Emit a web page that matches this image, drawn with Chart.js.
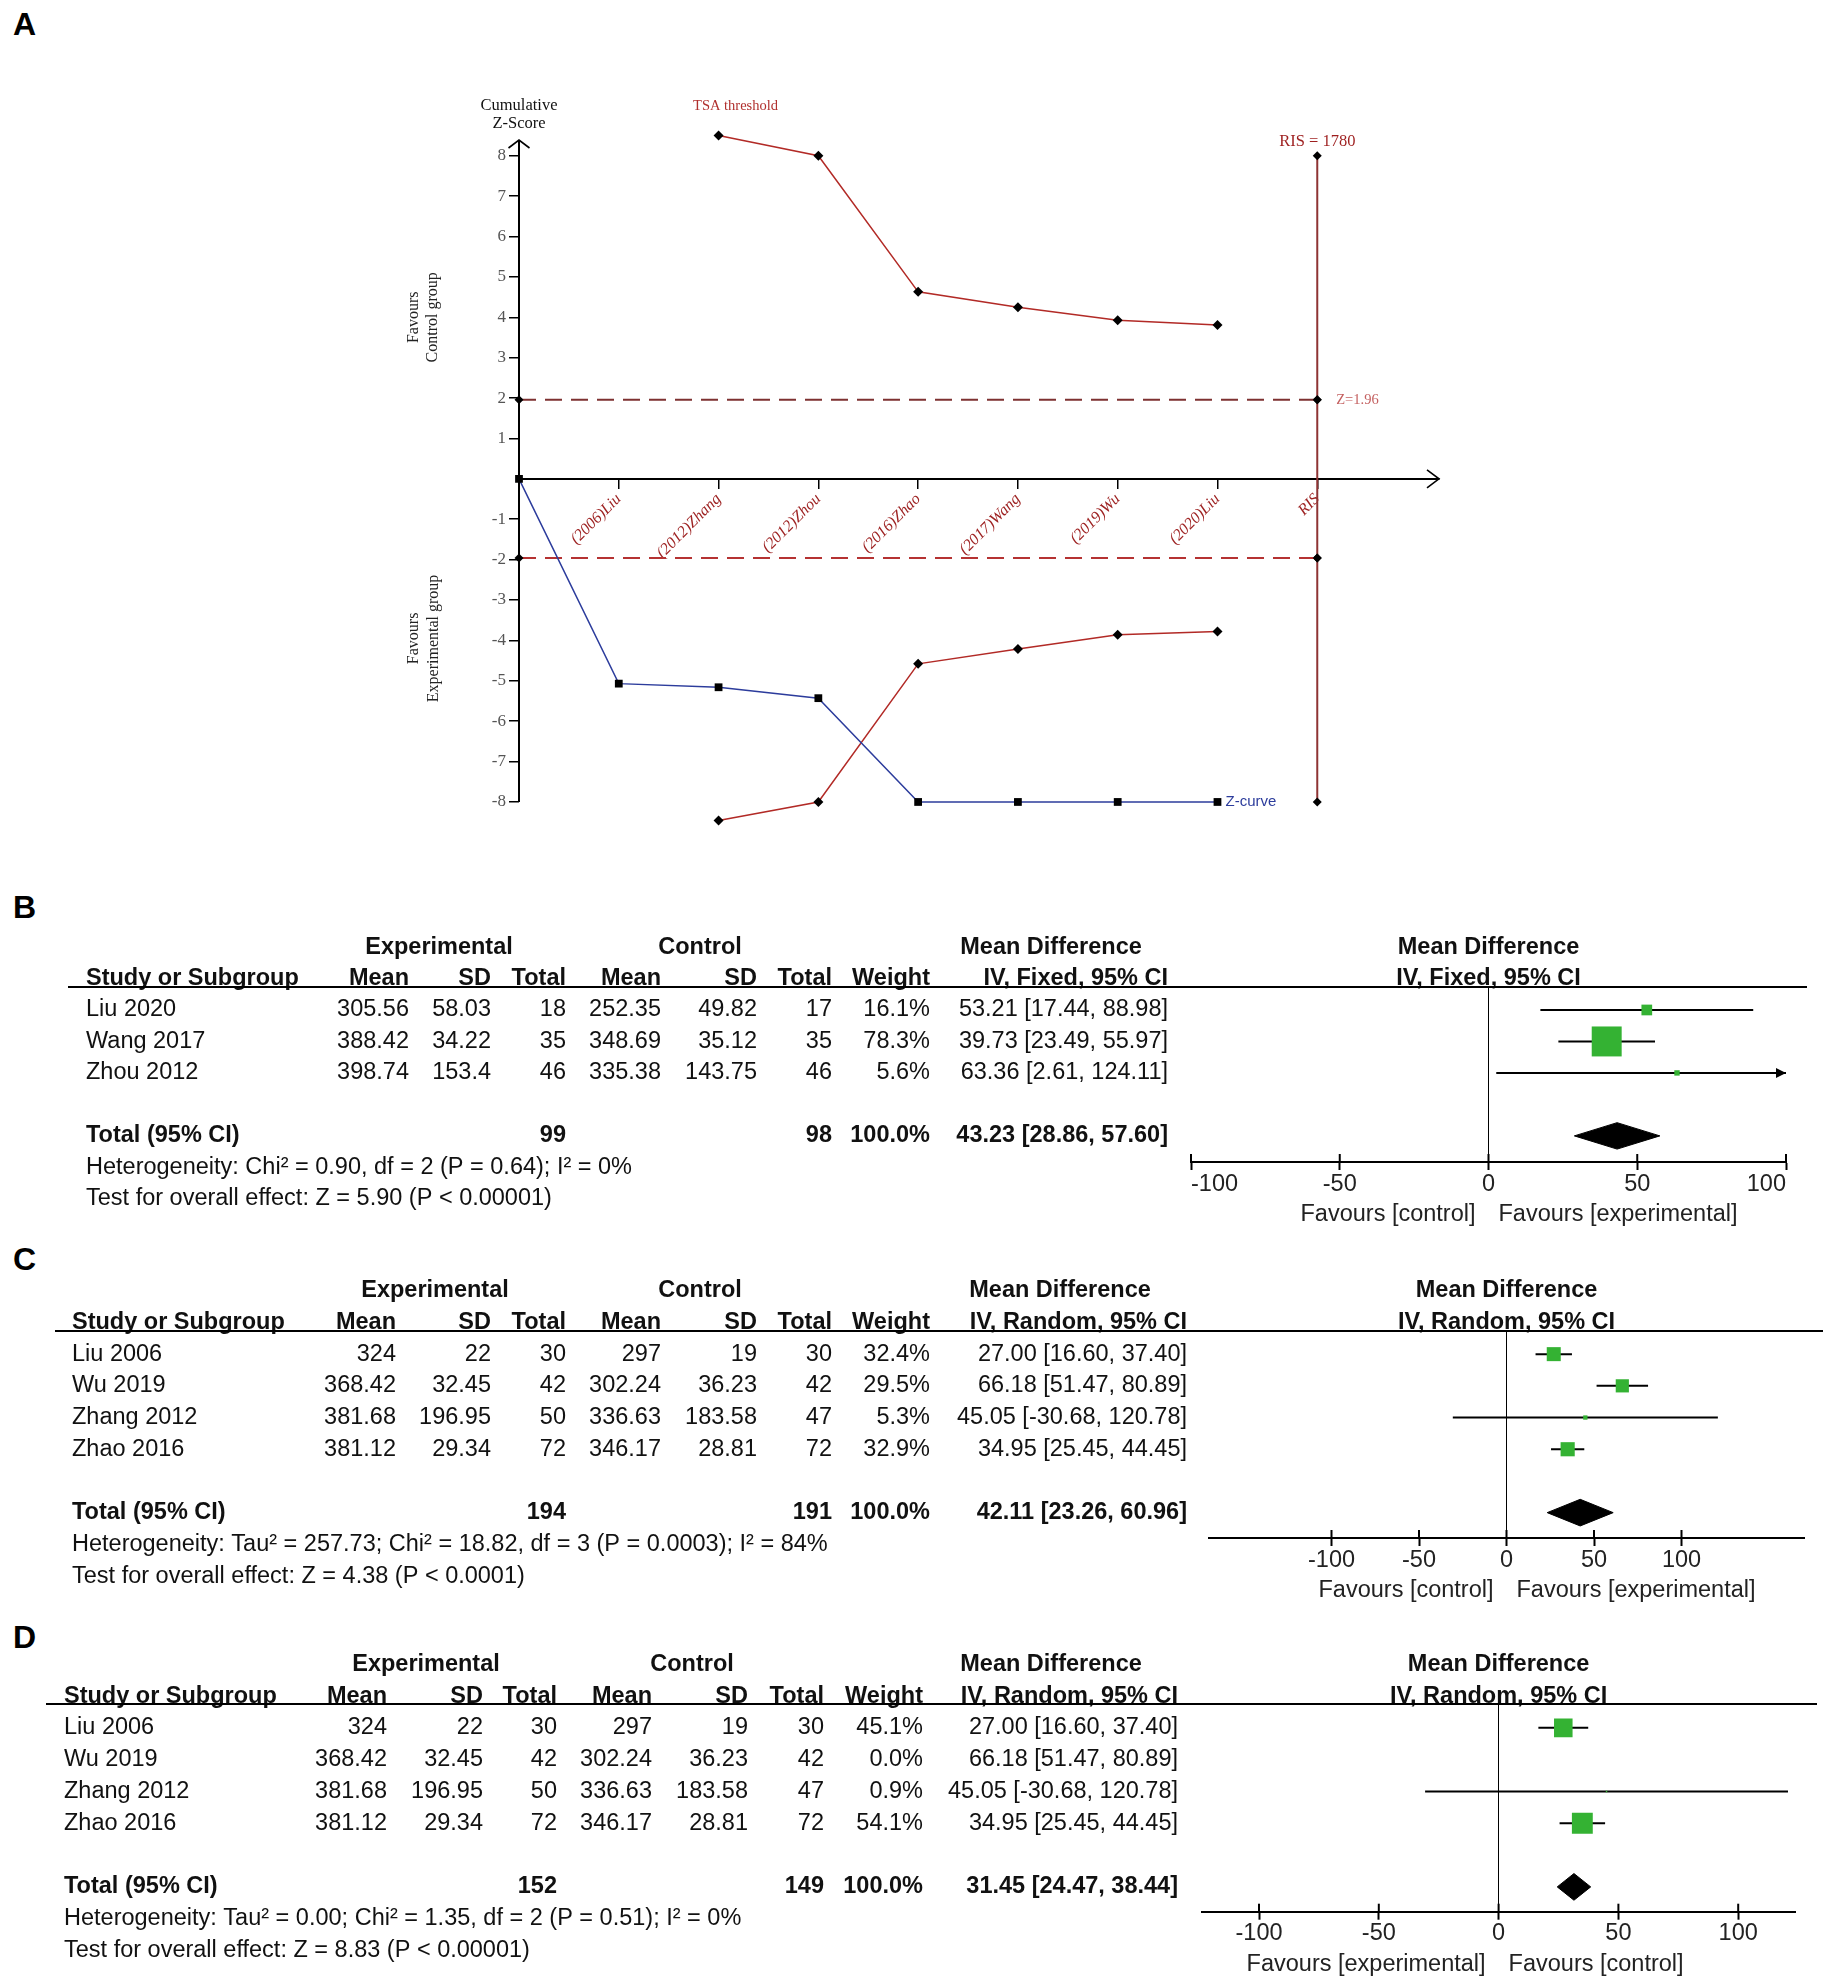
<!DOCTYPE html>
<html>
<head>
<meta charset="utf-8">
<title>TSA and forest plots</title>
<script src="https://cdn.jsdelivr.net/npm/chart.js@4.4.1/dist/chart.umd.min.js"></script>
<style>
  html, body { margin:0; padding:0; background:#fff; }
  #page { position:relative; width:1831px; height:1985px; background:#fff; overflow:hidden; }
  #page canvas { position:absolute; }
  .panel { position:absolute; font-family:"Liberation Sans", Arial, sans-serif; font-weight:bold; font-size:32px; line-height:1; color:#000; }
</style>
</head>
<body>
<div id="page">
  <div class="panel" style="left:13px;top:8px">A</div>
  <div class="panel" style="left:13px;top:891px">B</div>
  <div class="panel" style="left:13px;top:1243px">C</div>
  <div class="panel" style="left:13px;top:1621px">D</div>
  <canvas id="chartA" width="1200" height="800" style="left:300px;top:60px"></canvas>
  <canvas id="chartB" width="1831" height="350" style="left:0px;top:880px"></canvas>
  <canvas id="chartC" width="1831" height="370" style="left:0px;top:1240px"></canvas>
  <canvas id="chartD" width="1831" height="370" style="left:0px;top:1615px"></canvas>
</div>
<script>
// ---------------- Panel A data (trial sequential analysis) ----------------
const tsaSteps = ['', '(2006)Liu', '(2012)Zhang', '(2012)Zhou', '(2016)Zhao', '(2017)Wang', '(2019)Wu', '(2020)Liu', 'RIS'];
const zCurve   = [0, -5.07, -5.16, -5.43, -8, -8, -8, -8];
const tsaUpper = [null, null, 8.5, 8.0, 4.63, 4.25, 3.93, 3.81];
const tsaLower = [null, null, -8.46, -8.0, -4.58, -4.21, -3.86, -3.78];
const zBounds  = [1.96, -1.96];
const risStep  = 8;
const risValue = 1780;
const risMarks = [8, 1.96, -1.96, -8];
const zTicks   = [-8, -7, -6, -5, -4, -3, -2, -1, 1, 2, 3, 4, 5, 6, 7, 8];
const xTicksA  = [1, 2, 3, 4, 5, 6, 7, 8];

// ---------------- Panel B data ----------------
const bStudies  = ['Liu 2020', 'Wang 2017', 'Zhou 2012'];
const bExpMean  = [305.56, 388.42, 398.74];
const bExpSD    = [58.03, 34.22, 153.4];
const bExpN     = [18, 35, 46];
const bCtrlMean = [252.35, 348.69, 335.38];
const bCtrlSD   = [49.82, 35.12, 143.75];
const bCtrlN    = [17, 35, 46];
const bWeight   = [16.1, 78.3, 5.6];
const bMD       = [53.21, 39.73, 63.36];
const bLo       = [17.44, 23.49, 2.61];
const bHi       = [88.98, 55.97, 124.11];
const bTotals   = [99, 98, 100.0];
const bPooled   = [43.23, 28.86, 57.60];
const bHet      = 'Heterogeneity: Chi² = 0.90, df = 2 (P = 0.64); I² = 0%';
const bTest     = 'Test for overall effect: Z = 5.90 (P < 0.00001)';

// ---------------- Panel C data ----------------
const cStudies  = ['Liu 2006', 'Wu 2019', 'Zhang 2012', 'Zhao 2016'];
const cExpMean  = [324, 368.42, 381.68, 381.12];
const cExpSD    = [22, 32.45, 196.95, 29.34];
const cExpN     = [30, 42, 50, 72];
const cCtrlMean = [297, 302.24, 336.63, 346.17];
const cCtrlSD   = [19, 36.23, 183.58, 28.81];
const cCtrlN    = [30, 42, 47, 72];
const cWeight   = [32.4, 29.5, 5.3, 32.9];
const cMD       = [27.00, 66.18, 45.05, 34.95];
const cLo       = [16.60, 51.47, -30.68, 25.45];
const cHi       = [37.40, 80.89, 120.78, 44.45];
const cTotals   = [194, 191, 100.0];
const cPooled   = [42.11, 23.26, 60.96];
const cHet      = 'Heterogeneity: Tau² = 257.73; Chi² = 18.82, df = 3 (P = 0.0003); I² = 84%';
const cTest     = 'Test for overall effect: Z = 4.38 (P < 0.0001)';

// ---------------- Panel D data ----------------
const dStudies  = ['Liu 2006', 'Wu 2019', 'Zhang 2012', 'Zhao 2016'];
const dExpMean  = [324, 368.42, 381.68, 381.12];
const dExpSD    = [22, 32.45, 196.95, 29.34];
const dExpN     = [30, 42, 50, 72];
const dCtrlMean = [297, 302.24, 336.63, 346.17];
const dCtrlSD   = [19, 36.23, 183.58, 28.81];
const dCtrlN    = [30, 42, 47, 72];
const dWeight   = [45.1, 0.0, 0.9, 54.1];
const dMD       = [27.00, 66.18, 45.05, 34.95];
const dLo       = [16.60, 51.47, -30.68, 25.45];
const dHi       = [37.40, 80.89, 120.78, 44.45];
const dTotals   = [152, 149, 100.0];
const dPooled   = [31.45, 24.47, 38.44];
const dHet      = 'Heterogeneity: Tau² = 0.00; Chi² = 1.35, df = 2 (P = 0.51); I² = 0%';
const dTest     = 'Test for overall effect: Z = 8.83 (P < 0.00001)';

const mdTicks = [-100, -50, 0, 50, 100];

// ---------------- styles ----------------
const F_SANS  = '"Liberation Sans", Arial, Helvetica, sans-serif';
const F_SERIF = '"Liberation Serif", "Times New Roman", Times, serif';
const BLUE  = '#2c3c9c';
const GREEN = '#34b233';
Chart.defaults.font.family = F_SANS;
Chart.defaults.color = '#111';

// ================= Panel A =================
const annotA = {
  id: 'annotA',
  beforeDatasetsDraw(chart) {
    // vertical Z axis line from the lowest tick up to the arrow tip
    const {ctx, chartArea: a, scales: {x, y}} = chart;
    const x0 = x.getPixelForValue(0);
    ctx.save();
    ctx.strokeStyle = '#000'; ctx.lineWidth = 2;
    ctx.beginPath(); ctx.moveTo(x0, y.getPixelForValue(zTicks[0])); ctx.lineTo(x0, a.top); ctx.stroke();
    ctx.restore();
  },
  afterDraw(chart) {
    const {ctx, chartArea: a, scales: {x, y}} = chart;
    const x0 = x.getPixelForValue(0), y0 = y.getPixelForValue(0);
    ctx.save();
    ctx.strokeStyle = '#000'; ctx.lineWidth = 1.6;
    ctx.beginPath(); ctx.moveTo(x0 - 10.5, a.top + 8); ctx.lineTo(x0, a.top); ctx.lineTo(x0 + 10.5, a.top + 8); ctx.stroke();
    ctx.beginPath(); ctx.moveTo(a.right - 12, y0 - 9); ctx.lineTo(a.right, y0); ctx.lineTo(a.right - 12, y0 + 9); ctx.stroke();

    ctx.textBaseline = 'middle'; ctx.textAlign = 'center';
    ctx.fillStyle = '#111'; ctx.font = '16.5px ' + F_SERIF;
    ctx.fillText('Cumulative', x0, a.top - 34);
    ctx.fillText('Z-Score', x0, a.top - 16);

    ctx.fillStyle = '#b0302e'; ctx.font = '14.5px ' + F_SERIF;
    ctx.fillText('TSA threshold', x.getPixelForValue(2.17), a.top - 34);

    const xr = x.getPixelForValue(risStep);
    ctx.fillStyle = '#9e1f1f'; ctx.font = '16.5px ' + F_SERIF;
    ctx.fillText('RIS = ' + risValue, xr, y.getPixelForValue(risMarks[0]) - 14);

    ctx.textAlign = 'left';
    ctx.fillStyle = '#c46060'; ctx.font = '14.5px ' + F_SERIF;
    ctx.fillText('Z=' + zBounds[0], xr + 19, y.getPixelForValue(zBounds[0]));

    ctx.fillStyle = BLUE; ctx.font = '15px "Liberation Sans Narrow", ' + F_SANS;
    const last = zCurve.length - 1;
    ctx.fillText('Z-curve', x.getPixelForValue(last) + 8, y.getPixelForValue(zCurve[last]));

    ctx.fillStyle = '#222'; ctx.font = '16px ' + F_SERIF; ctx.textAlign = 'center';
    const vtext = (s, px, py) => { ctx.save(); ctx.translate(px, py); ctx.rotate(-Math.PI / 2); ctx.fillText(s, 0, 0); ctx.restore(); };
    vtext('Favours', x0 - 105, y.getPixelForValue(4.0));
    vtext('Control group', x0 - 86, y.getPixelForValue(4.0));
    vtext('Favours', x0 - 105, y.getPixelForValue(-3.95));
    vtext('Experimental group', x0 - 85, y.getPixelForValue(-3.95));
    ctx.restore();
  }
};

const pts = arr => arr.map((v, i) => (v === null ? null : {x: i, y: v})).filter(Boolean);

new Chart(document.getElementById('chartA'), {
  type: 'line',
  data: {
    datasets: [
      { label: 'Z-curve', data: pts(zCurve), borderColor: BLUE, borderWidth: 1.5, pointStyle: 'rect', pointRadius: 5.5,
        pointBackgroundColor: '#000', pointBorderColor: '#000', pointBorderWidth: 0, clip: false, order: 1 },
      { label: 'TSA upper', data: pts(tsaUpper), borderColor: '#b22a26', borderWidth: 1.5, pointStyle: 'rectRot', pointRadius: 5,
        pointBackgroundColor: '#000', pointBorderColor: '#000', pointBorderWidth: 0, clip: false, order: 1 },
      { label: 'TSA lower', data: pts(tsaLower), borderColor: '#b22a26', borderWidth: 1.5, pointStyle: 'rectRot', pointRadius: 5,
        pointBackgroundColor: '#000', pointBorderColor: '#000', pointBorderWidth: 0, clip: false, order: 1 },
      { label: 'Z upper', data: [{x: 0, y: zBounds[0]}, {x: risStep, y: zBounds[0]}], borderColor: '#7e3131', borderWidth: 2, borderDash: [17, 9],
        pointStyle: 'rectRot', pointRadius: 4.5, pointBackgroundColor: '#000', pointBorderWidth: 0, clip: false, order: 2 },
      { label: 'Z lower', data: [{x: 0, y: zBounds[1]}, {x: risStep, y: zBounds[1]}], borderColor: '#b53232', borderWidth: 2, borderDash: [17, 9],
        pointStyle: 'rectRot', pointRadius: 4.5, pointBackgroundColor: '#000', pointBorderWidth: 0, clip: false, order: 2 },
      { label: 'RIS', data: risMarks.map(v => ({x: risStep, y: v})), borderColor: '#8e3434', borderWidth: 2,
        pointStyle: 'rectRot', pointRadius: 4.5, pointBackgroundColor: '#000', pointBorderWidth: 0, clip: false, order: 3 }
    ]
  },
  options: {
    responsive: false, animation: false, events: [],
    layout: { padding: { left: 159, right: 61, top: 80, bottom: 33.8 } },
    plugins: { legend: { display: false }, tooltip: { enabled: false } },
    scales: {
      x: {
        type: 'linear', min: 0, max: 9.22, position: { y: 0 },
        afterBuildTicks: s => { s.ticks = xTicksA.map(v => ({ value: v })); },
        afterFit: s => { s.height = 0; },
        ticks: { autoSkip: false, minRotation: 45, maxRotation: 45, padding: 2, color: '#9e2323',
                 font: { family: F_SERIF, size: 16, style: 'italic' }, callback: v => tsaSteps[v] ?? '' },
        grid: { drawOnChartArea: false, drawTicks: true, tickLength: 9, color: '#000', lineWidth: 1.5 },
        border: { display: true, color: '#000', width: 2 }
      },
      y: {
        type: 'linear', min: -8.6, max: 8.39, position: 'left',
        afterBuildTicks: s => { s.ticks = zTicks.map(v => ({ value: v })); },
        afterFit: s => { s.width = 60; },
        ticks: { padding: 3, color: '#555', font: { family: F_SERIF, size: 17 } },
        grid: { drawOnChartArea: false, tickLength: 10, color: '#000', lineWidth: 1.5 },
        border: { display: false }
      }
    }
  },
  plugins: [annotA]
});

// ================= Forest plots =================
function forestText(D, L) {
  return {
    id: 'forestText',
    afterDraw(chart) {
      const {ctx, chartArea: a, scales: {x, y}} = chart;
      const ry = r => y.getPixelForValue(r);
      const n = D.studies.length;
      const reg = '23.5px ' + F_SANS, bold = 'bold 23.5px ' + F_SANS;
      const zx = x.getPixelForValue(0);
      ctx.save();
      ctx.fillStyle = '#111'; ctx.textBaseline = 'middle';
      const put = (s, px, r, al, f) => { ctx.font = f; ctx.textAlign = al; ctx.fillText(s, px, ry(r)); };
      const ci = (m, lo, hi) => m.toFixed(2) + ' [' + lo.toFixed(2) + ', ' + hi.toFixed(2) + ']';

      put('Experimental', L.expC, -2, 'center', bold);
      put('Control', L.ctrlC, -2, 'center', bold);
      put('Mean Difference', L.mdC, -2, 'center', bold);
      put('Mean Difference', zx, -2, 'center', bold);

      put('Study or Subgroup', L.study, -1, 'left', bold);
      put('Mean', L.expMean, -1, 'right', bold);
      put('SD', L.expSD, -1, 'right', bold);
      put('Total', L.expN, -1, 'right', bold);
      put('Mean', L.ctrlMean, -1, 'right', bold);
      put('SD', L.ctrlSD, -1, 'right', bold);
      put('Total', L.ctrlN, -1, 'right', bold);
      put('Weight', L.weight, -1, 'right', bold);
      put(D.method, L.md, -1, 'right', bold);
      put(D.method, zx, -1, 'center', bold);

      for (let i = 0; i < n; i++) {
        put(D.studies[i], L.study, i, 'left', reg);
        put(String(D.expMean[i]), L.expMean, i, 'right', reg);
        put(String(D.expSD[i]), L.expSD, i, 'right', reg);
        put(String(D.expN[i]), L.expN, i, 'right', reg);
        put(String(D.ctrlMean[i]), L.ctrlMean, i, 'right', reg);
        put(String(D.ctrlSD[i]), L.ctrlSD, i, 'right', reg);
        put(String(D.ctrlN[i]), L.ctrlN, i, 'right', reg);
        put(D.weight[i].toFixed(1) + '%', L.weight, i, 'right', reg);
        put(ci(D.md[i], D.lo[i], D.hi[i]), L.md, i, 'right', reg);
      }
      const t = n + 1;
      put('Total (95% CI)', L.study, t, 'left', bold);
      put(String(D.totals[0]), L.expN, t, 'right', bold);
      put(String(D.totals[1]), L.ctrlN, t, 'right', bold);
      put(D.totals[2].toFixed(1) + '%', L.weight, t, 'right', bold);
      put(ci(D.pooled[0], D.pooled[1], D.pooled[2]), L.md, t, 'right', bold);
      put(D.het, L.study, t + 1, 'left', reg);
      put(D.test, L.study, t + 2, 'left', reg);

      // header rule
      ctx.strokeStyle = '#000'; ctx.lineWidth = 2;
      ctx.beginPath(); ctx.moveTo(L.ruleL, a.top); ctx.lineTo(L.ruleR, a.top); ctx.stroke();
      // upper half of axis ticks
      x.ticks.forEach(tk => {
        const px = x.getPixelForValue(tk.value);
        ctx.beginPath(); ctx.moveTo(px, a.bottom); ctx.lineTo(px, a.bottom - 8); ctx.stroke();
      });
      // favours labels
      ctx.font = reg; ctx.fillStyle = '#222';
      ctx.textAlign = 'right'; ctx.fillText(D.favours[0], zx - 13, a.bottom + 53);
      ctx.textAlign = 'left'; ctx.fillText(D.favours[1], zx + 10, a.bottom + 53);
      // arrows where CI exceeds axis
      ctx.fillStyle = '#000';
      for (let i = 0; i < n; i++) {
        if (!(D.weight[i] > 0)) continue;
        const py = ry(i);
        if (D.hi[i] > x.max) {
          ctx.beginPath(); ctx.moveTo(a.right, py); ctx.lineTo(a.right - 10, py - 5); ctx.lineTo(a.right - 10, py + 5); ctx.closePath(); ctx.fill();
        }
        if (D.lo[i] < x.min) {
          ctx.beginPath(); ctx.moveTo(a.left, py); ctx.lineTo(a.left + 10, py - 5); ctx.lineTo(a.left + 10, py + 5); ctx.closePath(); ctx.fill();
        }
      }
      ctx.restore();
    }
  };
}

const AXIS_H = 45;
function makeForest(id, D, L) {
  const ds = [];
  const sq = [];
  D.md.forEach((m, i) => { if (D.weight[i] > 0) sq.push({ x: m, y: i, w: D.weight[i] }); });
  ds.push({ label: 'Studies', data: sq, showLine: false, pointStyle: 'rect',
            pointRadius: c => (c.raw ? L.k * Math.pow(c.raw.w, 0.65) * Math.SQRT2 : 0),
            pointBackgroundColor: GREEN, pointBorderColor: GREEN, pointBorderWidth: 0, order: 0 });
  D.lo.forEach((lo, i) => {
    if (D.weight[i] > 0) ds.push({ label: D.studies[i], data: [{ x: lo, y: i }, { x: D.hi[i], y: i }], showLine: true,
      borderColor: '#000', borderWidth: 2, pointRadius: 0, order: 2 });
  });
  const t = D.studies.length + 1, h = 0.42;
  const [pm, pl, ph] = D.pooled;
  ds.push({ label: 'Total', data: [{ x: pl, y: t }, { x: pm, y: t - h }, { x: ph, y: t }, { x: pm, y: t + h }, { x: pl, y: t }],
            showLine: true, borderColor: '#000', borderWidth: 1, backgroundColor: '#000', fill: 'shape', pointRadius: 0, order: 1 });

  new Chart(document.getElementById(id), {
    type: 'scatter',
    data: { datasets: ds },
    options: {
      responsive: false, animation: false, events: [],
      layout: { padding: { left: L.padL, right: L.padR, top: L.padT, bottom: L.padB - AXIS_H } },
      plugins: { legend: { display: false }, tooltip: { enabled: false } },
      scales: {
        x: {
          type: 'linear', min: -L.range, max: L.range, position: 'bottom',
          afterBuildTicks: s => { s.ticks = mdTicks.map(v => ({ value: v })); },
          afterFit: s => { s.height = AXIS_H; },
          ticks: { autoSkip: false, maxRotation: 0, minRotation: 0, align: L.tickAlign, padding: 0, color: '#222', font: { size: 23.5 } },
          grid: { drawOnChartArea: true, color: c => (c.tick && c.tick.value === 0 ? '#000' : 'rgba(0,0,0,0)'),
                  lineWidth: 1, tickColor: '#000', tickWidth: 2, tickLength: 8 },
          border: { display: true, color: '#000', width: 2 }
        },
        y: { type: 'linear', reverse: true, min: L.ymin, max: L.ymax, display: false }
      }
    },
    plugins: [forestText(D, L)]
  });
}

makeForest('chartB',
  { studies: bStudies, expMean: bExpMean, expSD: bExpSD, expN: bExpN, ctrlMean: bCtrlMean, ctrlSD: bCtrlSD, ctrlN: bCtrlN,
    weight: bWeight, md: bMD, lo: bLo, hi: bHi, totals: bTotals, pooled: bPooled, het: bHet, test: bTest,
    method: 'IV, Fixed, 95% CI', favours: ['Favours [control]', 'Favours [experimental]'] },
  { padL: 1191, padR: 45, padT: 107, padB: 68, range: 100, ymin: -0.73, ymax: 4.83, k: 0.88, tickAlign: 'inner',
    study: 86, expMean: 409, expSD: 491, expN: 566, ctrlMean: 661, ctrlSD: 757, ctrlN: 832, weight: 930, md: 1168,
    expC: 439, ctrlC: 700, mdC: 1051, ruleL: 68, ruleR: 1807 });

makeForest('chartC',
  { studies: cStudies, expMean: cExpMean, expSD: cExpSD, expN: cExpN, ctrlMean: cCtrlMean, ctrlSD: cCtrlSD, ctrlN: cCtrlN,
    weight: cWeight, md: cMD, lo: cLo, hi: cHi, totals: cTotals, pooled: cPooled, het: cHet, test: cTest,
    method: 'IV, Random, 95% CI', favours: ['Favours [control]', 'Favours [experimental]'] },
  { padL: 1209, padR: 27, padT: 91, padB: 72, range: 170, ymin: -0.73, ymax: 5.8, k: 0.73, tickAlign: 'center',
    study: 72, expMean: 396, expSD: 491, expN: 566, ctrlMean: 661, ctrlSD: 757, ctrlN: 832, weight: 930, md: 1187,
    expC: 435, ctrlC: 700, mdC: 1060, ruleL: 55, ruleR: 1823 });

makeForest('chartD',
  { studies: dStudies, expMean: dExpMean, expSD: dExpSD, expN: dExpN, ctrlMean: dCtrlMean, ctrlSD: dCtrlSD, ctrlN: dCtrlN,
    weight: dWeight, md: dMD, lo: dLo, hi: dHi, totals: dTotals, pooled: dPooled, het: dHet, test: dTest,
    method: 'IV, Random, 95% CI', favours: ['Favours [experimental]', 'Favours [control]'] },
  { padL: 1201.5, padR: 35.3, padT: 89, padB: 73.3, range: 124, ymin: -0.75, ymax: 5.78, k: 0.78, tickAlign: 'center',
    study: 64, expMean: 387, expSD: 483, expN: 557, ctrlMean: 652, ctrlSD: 748, ctrlN: 824, weight: 923, md: 1178,
    expC: 426, ctrlC: 692, mdC: 1051, ruleL: 46, ruleR: 1817 });
</script>
</body>
</html>
